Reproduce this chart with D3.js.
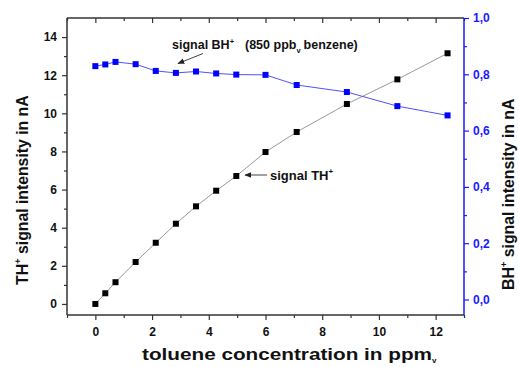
<!DOCTYPE html>
<html><head><meta charset="utf-8">
<script src="https://cdn.jsdelivr.net/npm/d3@7"></script>
<style>
html,body{margin:0;padding:0;background:#fff;}
text{font-family:Arial,"Liberation Sans",sans-serif;font-weight:bold;}
</style></head>
<body><svg id="c" width="519" height="367"></svg>
<script>
const conc = [0, 0.35, 0.71, 1.42, 2.13, 2.84, 3.55, 4.26, 4.97, 6.0, 7.1, 8.87, 10.65, 12.42];
const thSignal = [0, 0.56, 1.14, 2.2, 3.21, 4.21, 5.12, 5.94, 6.71, 7.97, 9.02, 10.49, 11.78, 13.15];
const bhSignal = [0.829, 0.835, 0.844, 0.836, 0.812, 0.805, 0.810, 0.803, 0.799, 0.798, 0.762, 0.737, 0.687, 0.654];
const xTicks = [0, 2, 4, 6, 8, 10, 12];
const yLeftTicks = [0, 2, 4, 6, 8, 10, 12, 14];
const yRightTicks = [0, 0.2, 0.4, 0.6, 0.8, 1.0];

const svg = d3.select("#c");
const L = 67, R = 464, T = 18, B = 315;
const x = d3.scaleLinear().domain([-1, 13]).range([L, R]);
const yL = d3.scaleLinear().domain([-0.58, 15]).range([B, T]);
const yR = d3.scaleLinear().domain([-0.055, 1.0]).range([B, T]);
const blue = "#1a1aff";
const axisCol = "#333";
const fmtR = d => d3.format(".1f")(d).replace(".", ",");

function styleAxis(g, col) {
  g.select(".domain").remove();
  g.selectAll("line").attr("stroke", col).attr("stroke-width", 1.2);
  g.selectAll("text").attr("fill", col).style("font-size", "12px").style("font-weight", "bold");
}
// bottom axis
const gB = svg.append("g").attr("transform", `translate(0,${B})`)
  .call(d3.axisBottom(x).tickValues(xTicks).tickSize(5).tickPadding(7).tickFormat(d3.format("d")));
styleAxis(gB, axisCol); gB.selectAll("text").attr("fill", "#111");
svg.append("g").attr("transform", `translate(0,${B})`)
  .call(d3.axisBottom(x).tickValues(d3.range(-1, 14, 2)).tickSize(3).tickFormat(""))
  .call(g => styleAxis(g, axisCol));
// top axis inward
svg.append("g").attr("transform", `translate(0,${T})`)
  .call(d3.axisBottom(x).tickValues(xTicks).tickSize(5).tickFormat(""))
  .call(g => styleAxis(g, axisCol));
svg.append("g").attr("transform", `translate(0,${T})`)
  .call(d3.axisBottom(x).tickValues(d3.range(-1, 14, 2)).tickSize(3).tickFormat(""))
  .call(g => styleAxis(g, axisCol));
// left axis
const gL = svg.append("g").attr("transform", `translate(${L},0)`)
  .call(d3.axisLeft(yL).tickValues(yLeftTicks).tickSize(5).tickPadding(5).tickFormat(d3.format("d")));
styleAxis(gL, axisCol); gL.selectAll("text").attr("fill", "#111");
svg.append("g").attr("transform", `translate(${L},0)`)
  .call(d3.axisLeft(yL).tickValues(d3.range(1, 15, 2)).tickSize(3).tickFormat(""))
  .call(g => styleAxis(g, axisCol));
// right axis
const gR = svg.append("g").attr("transform", `translate(${R},0)`)
  .call(d3.axisRight(yR).tickValues(yRightTicks).tickSize(5).tickPadding(4).tickFormat(fmtR));
styleAxis(gR, blue);
svg.append("g").attr("transform", `translate(${R},0)`)
  .call(d3.axisRight(yR).tickValues([0.1, 0.3, 0.5, 0.7, 0.9]).tickSize(3).tickFormat(""))
  .call(g => styleAxis(g, blue));

// frame lines
svg.append("line").attr("x1", L).attr("x2", R).attr("y1", T).attr("y2", T).attr("stroke", axisCol).attr("stroke-width", 1.5);
svg.append("line").attr("x1", L).attr("x2", R).attr("y1", B).attr("y2", B).attr("stroke", axisCol).attr("stroke-width", 1.5);
svg.append("line").attr("x1", L).attr("x2", L).attr("y1", T).attr("y2", B).attr("stroke", axisCol).attr("stroke-width", 1.5);
svg.append("line").attr("x1", R).attr("x2", R).attr("y1", T).attr("y2", B).attr("stroke", blue).attr("stroke-width", 1.5);

// series
const thData = conc.map((c, i) => [c, thSignal[i]]);
const bhData = conc.map((c, i) => [c, bhSignal[i]]);
svg.append("path").datum(thData).attr("fill", "none").attr("stroke", "#999").attr("stroke-width", 1)
  .attr("d", d3.line().x(d => x(d[0])).y(d => yL(d[1])));
svg.append("path").datum(bhData).attr("fill", "none").attr("stroke", "#5050ff").attr("stroke-width", 1)
  .attr("d", d3.line().x(d => x(d[0])).y(d => yR(d[1])));
const ms = 6;
svg.selectAll(".th").data(thData).enter().append("rect")
  .attr("x", d => x(d[0]) - ms / 2).attr("y", d => yL(d[1]) - ms / 2).attr("width", ms).attr("height", ms).attr("fill", "#000");
svg.selectAll(".bh").data(bhData).enter().append("rect")
  .attr("x", d => x(d[0]) - ms / 2).attr("y", d => yR(d[1]) - ms / 2).attr("width", ms).attr("height", ms).attr("fill", "#0000ff");

// annotations
svg.append("defs").append("marker").attr("id", "ah").attr("viewBox", "0 0 10 10").attr("refX", 9).attr("refY", 5)
  .attr("markerWidth", 7).attr("markerHeight", 7).attr("orient", "auto")
  .append("path").attr("d", "M0,1 L10,5 L0,9 Z").attr("fill", "#222");
svg.append("line").attr("x1", 203).attr("y1", 53.5).attr("x2", 178).attr("y2", 63.5)
  .attr("stroke", "#444").attr("stroke-width", 1).attr("marker-end", "url(#ah)");
const t1 = svg.append("text").attr("y", 49).style("font-size", "12.5px").attr("fill", "#111");
t1.append("tspan").attr("x", 172).text("signal BH");
t1.append("tspan").text("+").style("font-size", "7.5px").attr("dy", -5);
t1.append("tspan").attr("x", 245).attr("dy", 5).text("(850 ppb");
t1.append("tspan").text("v").style("font-size", "7.5px").attr("dy", 4);
t1.append("tspan").attr("dy", -4).attr("dx", 3).text("benzene)");

svg.append("line").attr("x1", 267).attr("y1", 175).attr("x2", 245).attr("y2", 175)
  .attr("stroke", "#444").attr("stroke-width", 1).attr("marker-end", "url(#ah)");
const t2 = svg.append("text").attr("x", 270).attr("y", 180).style("font-size", "13px").attr("fill", "#111");
t2.append("tspan").text("signal TH");
t2.append("tspan").text("+").style("font-size", "8px").attr("dy", -6);

// axis titles
const tx = svg.append("text").attr("y", 360).style("font-size", "17px").attr("fill", "#111");
tx.append("tspan").attr("x", 142).text("toluene concentration in ppm").attr("textLength", 290).attr("lengthAdjust", "spacingAndGlyphs");
tx.append("tspan").text("v").style("font-size", "8px").attr("dy", 3);

const ty = svg.append("text").attr("transform", "translate(28,285) rotate(-90)").style("font-size", "16px").attr("fill", "#111");
ty.append("tspan").text("TH");
ty.append("tspan").text("+").style("font-size", "9px").attr("dy", -7);
ty.append("tspan").text(" signal intensity in nA").attr("dy", 7).attr("textLength", 163).attr("lengthAdjust", "spacingAndGlyphs");

const tr = svg.append("text").attr("transform", "translate(514,290) rotate(-90)").style("font-size", "16px").attr("fill", "#111");
tr.append("tspan").text("BH");
tr.append("tspan").text("+").style("font-size", "9px").attr("dy", -7);
tr.append("tspan").text(" signal intensity in nA").attr("dy", 7).attr("textLength", 163).attr("lengthAdjust", "spacingAndGlyphs");
</script></body></html>
